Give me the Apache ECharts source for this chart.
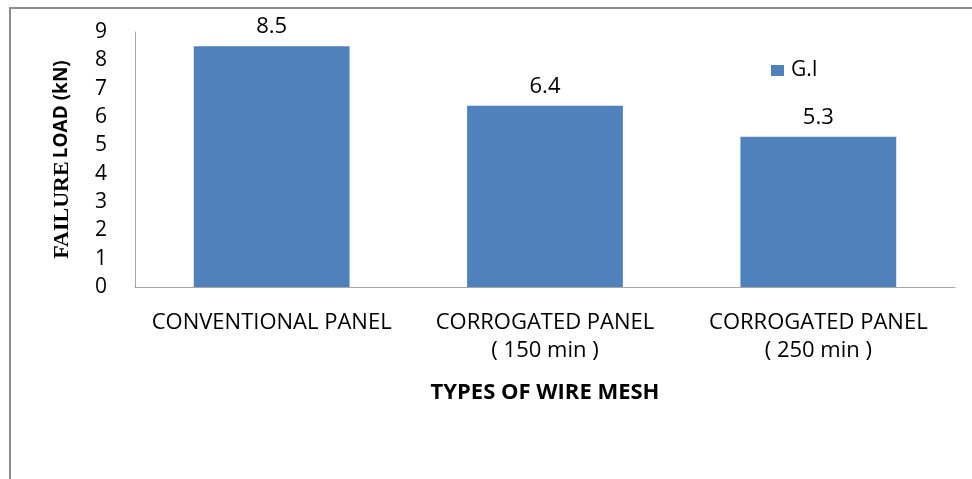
<!DOCTYPE html>
<html>
<head>
<meta charset="utf-8">
<script src="https://cdn.jsdelivr.net/npm/echarts@6/dist/echarts.min.js"></script>
<style>
html,body{margin:0;padding:0;background:#fff;}
#chart{width:972px;height:479px;}
</style>
</head>
<body>
<div id="chart"></div>
<script>
const categories = ['CONVENTIONAL PANEL', 'CORROGATED PANEL\n( 150 min )', 'CORROGATED PANEL\n( 250 min )'];
const seriesName = 'G.I';
const values = [8.5, 6.4, 5.3];
const yTicks = { min: 0, max: 9, interval: 1 };
const xTitle = 'TYPES OF WIRE MESH';
const yTitleParts = ['FAILURE', 'LOAD (kN)'];

const chart = echarts.init(document.getElementById('chart'), null, { renderer: 'canvas' });
const font = '"Open Sans", Lato, sans-serif';
chart.setOption({
  backgroundColor: '#ffffff',
  animation: false,
  textStyle: { fontFamily: font, color: '#000' },
  grid: { left: 135, right: 17, top: 32, bottom: 192, containLabel: false },
  legend: {
    data: [seriesName],
    left: 771, top: 60, padding: 0,
    itemWidth: 13, itemHeight: 11, itemGap: 8,
    icon: 'rect',
    textStyle: { fontFamily: font, fontSize: 21, color: '#000', padding: [0,0,0,2] }
  },
  xAxis: {
    type: 'category',
    data: categories,
    axisLine: { show: true, lineStyle: { color: '#a6a6a6', width: 1 } },
    axisTick: { show: false },
    axisLabel: { fontFamily: font, fontSize: 22, color: '#000', margin: 22, lineHeight: 28, interval: 0 },
    name: xTitle,
    nameLocation: 'middle',
    nameGap: 95,
    nameTextStyle: { fontFamily: font, fontSize: 22, fontWeight: 'bold', color: '#000' }
  },
  yAxis: {
    type: 'value',
    min: yTicks.min, max: yTicks.max, interval: yTicks.interval,
    axisLine: { show: true, lineStyle: { color: '#a6a6a6', width: 1 } },
    axisTick: { show: false },
    splitLine: { show: false },
    axisLabel: { fontFamily: font, fontSize: 21, color: '#000', margin: 28 },
    name: '{a|' + yTitleParts[0] + '} {b|' + yTitleParts[1] + '}',
    nameLocation: 'middle',
    nameRotate: 90,
    nameGap: 62,
    nameTextStyle: {
      rich: {
        a: { fontFamily: '"Liberation Serif", "DejaVu Serif", serif', fontWeight: 'bold', fontSize: 22, color: '#000' },
        b: { fontFamily: font, fontWeight: 'bold', fontSize: 19, color: '#000' }
      }
    }
  },
  series: [{
    name: seriesName,
    type: 'bar',
    data: values,
    barWidth: '57%',
    itemStyle: { color: '#4f81bd' },
    label: { show: true, position: 'top', distance: 8, fontFamily: font, fontSize: 22, color: '#000' }
  }],
  graphic: [
    { type: 'polyline', shape: { points: [[10, 479], [10, 8], [972, 8]] }, style: { stroke: '#8c8c8c', lineWidth: 2, fill: null }, silent: true }
  ]
});
</script>
</body>
</html>
